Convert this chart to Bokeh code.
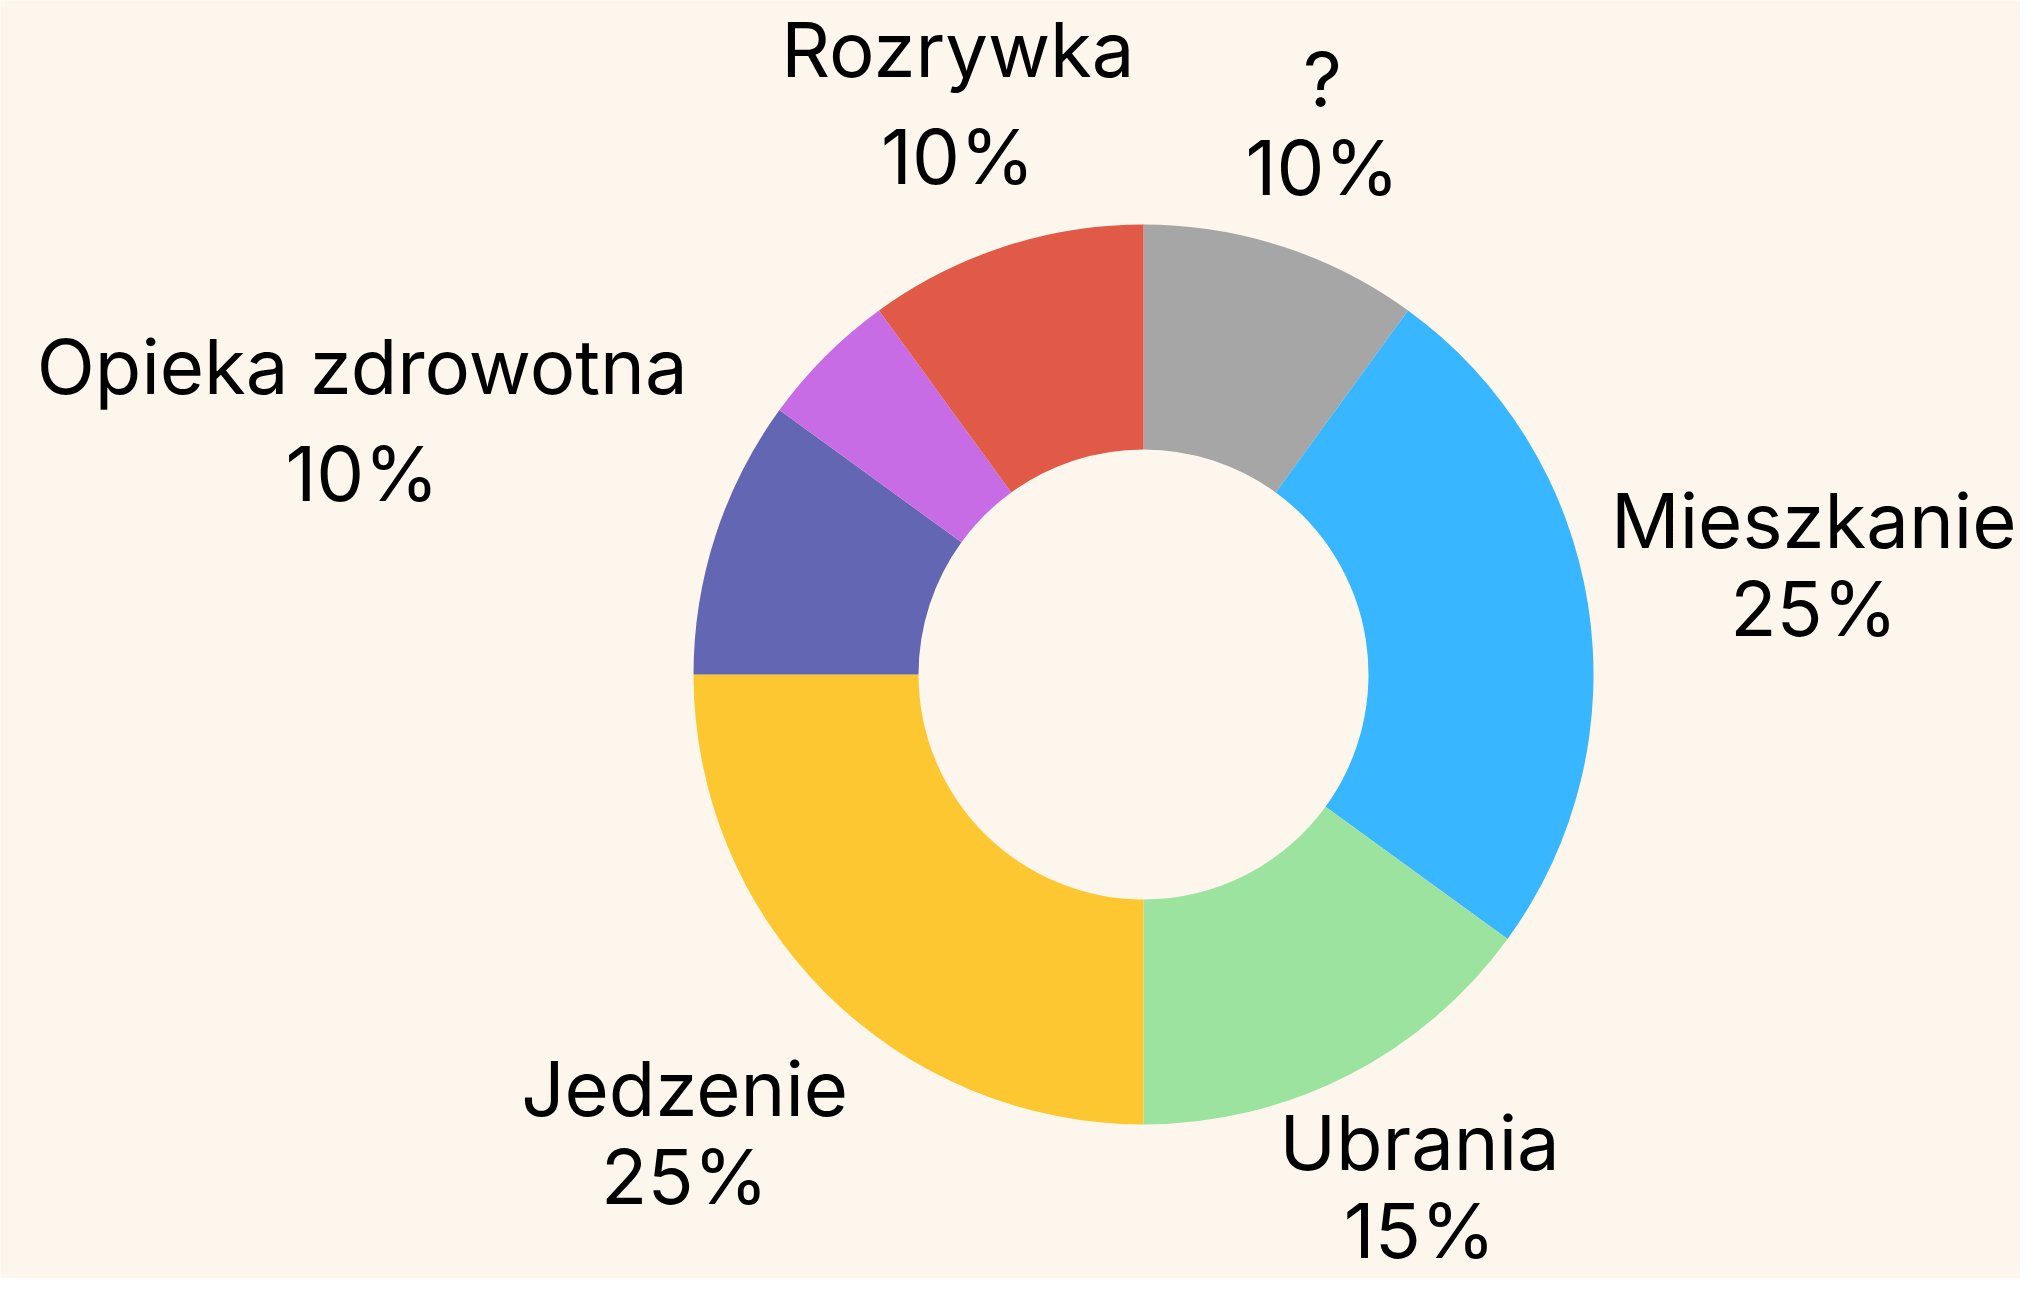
import math
from bokeh.plotting import figure
from bokeh.models import Range1d, ColumnDataSource
from bokeh.core.properties import value
from bokeh.embed import file_html
from bokeh.resources import INLINE

# ---- data (clockwise from 12 o'clock) ----
categories = ["?", "Mieszkanie", "Ubrania", "Jedzenie", "Opieka zdrowotna", "", "Rozrywka"]
shares = [10, 25, 15, 25, 10, 5, 10]
colors = ["#A6A6A6", "#38B6FF", "#9DE3A0", "#FDC732", "#6366B3", "#C86CE6", "#E05A47"]
show_label = [True, True, True, True, True, False, True]

# ---- layout ----
W, H = 2020, 1278
CX, CY = 1143, 604
R_OUT, R_IN = 450, 225
FONT_PX = 76
CAP = 56
R_LABEL = 490
BASELINE_FIX = 29
EDGE = 4
EDGE_BOTTOM = 20
BG = "#FDF6EC"

# approximate glyph advance widths (em) for label box estimation
_w = {"i": 0.25, "l": 0.25, "j": 0.25, "t": 0.36, "r": 0.38, " ": 0.28, "M": 0.88,
      "w": 0.80, "O": 0.77, "U": 0.72, "R": 0.64, "J": 0.52, "?": 0.50, "%": 0.86,
      "1": 0.45}
def text_w(s):
    return sum(_w.get(c, 0.60 if c.isdigit() else 0.565) for c in s) * FONT_PX

total = float(sum(shares))
starts, ends = [], []
acc = 0.0
for s in shares:
    a0 = math.pi / 2 - 2 * math.pi * acc / total
    acc += s
    a1 = math.pi / 2 - 2 * math.pi * acc / total
    starts.append(a0)
    ends.append(a1)

p = figure(width=W, height=H, x_range=Range1d(0, W), y_range=Range1d(0, H),
           x_axis_type=None, y_axis_type=None, toolbar_location=None,
           output_backend="svg", min_border=0)
p.grid.visible = False
p.outline_line_color = None
p.background_fill_color = BG
p.border_fill_color = BG

src = ColumnDataSource(dict(start=starts, end=ends, color=colors))
p.annular_wedge(x=CX, y=CY, inner_radius=R_IN, outer_radius=R_OUT,
                start_angle="start", end_angle="end", direction="clock",
                fill_color="color", line_color=None, source=src)

nx, ny, nt, vx, vy, vt = [], [], [], [], [], []
for cat, s, a0, a1, show in zip(categories, shares, starts, ends, show_label):
    if not show:
        continue
    mid = (a0 + a1) / 2
    ux, uy = math.cos(mid), math.sin(mid)
    pct = f"{s}%"
    wbox = max(text_w(cat), text_w(pct))
    spacing = 88 + (19 if any(c in "gjpqy" for c in cat) else 0)
    hbox = CAP + spacing

    def dist(d):
        ex = max(0.0, d * abs(ux) - wbox / 2)
        ey = max(0.0, d * abs(uy) - hbox / 2)
        return math.hypot(ex, ey)

    lo, hi = 0.0, 3000.0
    for _ in range(80):
        m = (lo + hi) / 2
        if dist(m) < R_LABEL:
            lo = m
        else:
            hi = m
    d = (lo + hi) / 2
    bx, by = CX + d * ux, CY + d * uy
    # keep the label box inside the frame
    bx = min(max(bx, wbox / 2 + EDGE), W - wbox / 2 - EDGE)
    by = min(max(by, hbox / 2 + EDGE_BOTTOM), H - hbox / 2 - EDGE)
    nx.append(bx); ny.append(by + hbox / 2 - CAP + BASELINE_FIX); nt.append(cat)
    vx.append(bx); vy.append(by - hbox / 2 + BASELINE_FIX); vt.append(pct)

p.text(x=nx + vx, y=ny + vy, text=nt + vt, text_align="center",
       text_baseline="alphabetic", text_font=value("Inter"),
       text_font_size=f"{FONT_PX}px", text_color="#000000")

open("out.html", "w").write(file_html(p, INLINE))
